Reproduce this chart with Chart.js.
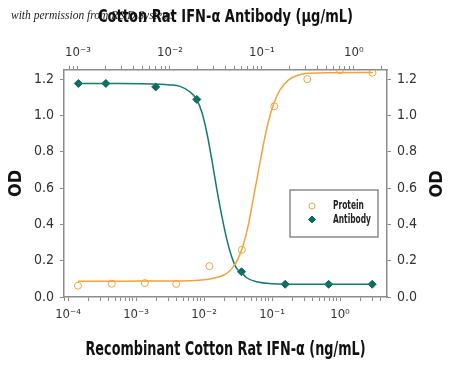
<!DOCTYPE html>
<html lang="en">
<head>
  <meta charset="UTF-8">
  <title>Cotton Rat IFN-alpha</title>
  <script src="https://cdn.jsdelivr.net/npm/chart.js"></script>
  <style>
    body { margin: 0; background: #ffffff; }
    #chart { display: block; }
  </style>
</head>
<body>
  <canvas id="chart" width="450" height="367"></canvas>

  <script>
    // protein, bottom axis (ng/mL)
    const proteinConc = [0.00014, 0.00044, 0.00135, 0.0039, 0.012, 0.036, 0.108, 0.33, 1.0, 3.0];
    const proteinOD = [0.062, 0.073, 0.077, 0.072, 0.17, 0.26, 1.05, 1.20, 1.25, 1.235];
    // antibody, top axis (ug/mL)
    const antibodyConc = [0.00101, 0.00201, 0.0070, 0.0196, 0.060, 0.179, 0.531, 1.58];
    const antibodyOD = [1.176, 1.176, 1.157, 1.088, 0.139, 0.07, 0.07, 0.07];

    // fitted curves
    const proteinFitConc = [0.00014, 0.00058, 0.00225, 0.00444, 0.0137, 0.0216, 0.0270, 0.0319, 0.0378, 0.0448,
      0.0531, 0.0629, 0.0745, 0.0883, 0.1045, 0.131, 0.174, 0.244, 0.362, 0.713, 3.05];
    const proteinFitOD = [0.087, 0.087, 0.088, 0.088, 0.103, 0.13, 0.167, 0.213, 0.286, 0.396,
      0.543, 0.69, 0.837, 0.965, 1.057, 1.14, 1.194, 1.222, 1.232, 1.235, 1.236];
    const antibodyFitConc = [0.00100, 0.00286, 0.00778, 0.0100, 0.01285, 0.01648, 0.0195, 0.02213, 0.02506, 0.02838,
      0.03221, 0.03648, 0.0413, 0.0469, 0.0531, 0.0601, 0.0681, 0.0875, 0.1327, 0.259, 1.57];
    const antibodyFitOD = [1.176, 1.176, 1.172, 1.168, 1.16, 1.13, 1.088, 1.02, 0.91, 0.763,
      0.598, 0.451, 0.323, 0.222, 0.158, 0.135, 0.106, 0.084, 0.073, 0.07, 0.07];

    const yTicks = [0, 0.2, 0.4, 0.6, 0.8, 1.0, 1.2];

    const topTitle = 'Cotton Rat IFN-\u03B1 Antibody (\u03BCg/mL)';
    const bottomTitle = 'Recombinant Cotton Rat IFN-\u03B1 (ng/mL)';

    const orange = '#f2a33a';
    const teal = '#137a70';
    const axisGray = '#8c8c8c';
    const narrow = '"Liberation Sans Narrow", "DejaVu Sans Condensed", sans-serif';

    const sup = { '-': '\u207B', '0': '\u2070', '1': '\u00B9', '2': '\u00B2', '3': '\u00B3', '4': '\u2074' };
    function powLabel(v) {
      const e = Math.log10(v);
      if (Math.abs(e - Math.round(e)) > 1e-6) return '';
      return '10' + String(Math.round(e)).split('').map(c => sup[c]).join('');
    }
    function logTicks(scale) {
      const list = [];
      for (let n = -6; n <= 2; n++) {
        for (let k = 1; k <= 9; k++) {
          const v = k * Math.pow(10, n);
          if (v >= scale.min * 0.9999 && v <= scale.max * 1.0001) list.push({ value: v });
        }
      }
      scale.ticks = list;
    }
    function pts(xs, ys) { return xs.map((x, i) => ({ x: x, y: ys[i] })); }

    const tickFont = { family: narrow, size: 13 };
    function logAxis(position, min, max, sizeFix) {
      return {
        type: 'logarithmic', position: position, min: min, max: max,
        afterBuildTicks: logTicks,
        afterFit: s => { s.height = sizeFix; },
        grid: { drawOnChartArea: false, drawTicks: true, tickLength: 4, color: axisGray },
        border: { display: true, color: axisGray, width: 1.5 },
        ticks: { callback: v => powLabel(v), autoSkip: false, maxRotation: 0, padding: 6, color: '#333', font: tickFont }
      };
    }
    function odAxis(position, width, showTitle) {
      return {
        type: 'linear', position: position, min: 0, max: 1.25,
        afterBuildTicks: s => { s.ticks = yTicks.map(v => ({ value: v })); },
        afterFit: s => { s.width = width; },
        grid: { drawOnChartArea: false, drawTicks: true, tickLength: 4, color: axisGray },
        border: { display: true, color: axisGray, width: 1.5 },
        ticks: { callback: v => v.toFixed(1), padding: 6, color: '#333', font: { family: narrow, size: 14 } },
        title: { display: showTitle, text: 'OD', color: '#111', font: { family: narrow, size: 18, weight: 'bold' },
                 padding: { top: 6, bottom: 4 } }
      };
    }

    // condensed bold text, squeezed to the width seen in the picture
    function squeezed(ctx, text, x, cy, font, width, align, color) {
      ctx.save();
      ctx.font = font;
      const k = Math.min(1, width / ctx.measureText(text).width);
      ctx.translate(x, cy);
      ctx.scale(k, 1);
      ctx.fillStyle = color;
      ctx.textAlign = align;
      ctx.textBaseline = 'middle';
      ctx.fillText(text, 0, 0);
      ctx.restore();
    }

    const extras = {
      id: 'extras',
      beforeDraw(chart) {
        const ctx = chart.ctx;
        ctx.save();
        ctx.fillStyle = '#222';
        ctx.font = 'italic 11.5px "Liberation Serif", "DejaVu Serif", serif';
        ctx.textBaseline = 'middle';
        ctx.textAlign = 'left';
        ctx.fillText('with permission from R&D Systems', 11, 16);
        ctx.restore();
      },
      afterDraw(chart) {
        const ctx = chart.ctx;
        const a = chart.chartArea;
        const mid = (a.left + a.right) / 2;
        squeezed(ctx, topTitle, mid, 17, 'bold 18px ' + narrow, 255, 'center', '#111');
        squeezed(ctx, bottomTitle, mid, 350, 'bold 19px ' + narrow, 280, 'center', '#111');

        ctx.save();
        // right axis title, same turn as the left one
        ctx.translate(437, 184);
        ctx.rotate(-Math.PI / 2);
        ctx.fillStyle = '#111';
        ctx.font = 'bold 18px ' + narrow;
        ctx.textAlign = 'center';
        ctx.textBaseline = 'middle';
        ctx.fillText('OD', 0, 0);
        ctx.restore();

        // legend box
        const bx = 290, by = 190, bw = 88, bh = 47;
        ctx.save();
        ctx.fillStyle = '#fff';
        ctx.fillRect(bx, by, bw, bh);
        ctx.strokeStyle = '#7a7a7a';
        ctx.lineWidth = 1.3;
        ctx.strokeRect(bx, by, bw, bh);
        const legendFont = '600 12px ' + narrow;
        ctx.font = legendFont;
        const k = Math.min(1, 38 / ctx.measureText('Antibody').width);
        const items = [chart.data.datasets[2], chart.data.datasets[3]];
        items.forEach((ds, i) => {
          const y = by + 16 + i * 13.5;
          ctx.fillStyle = ds.backgroundColor;
          ctx.strokeStyle = ds.borderColor;
          ctx.lineWidth = ds.borderWidth;
          Chart.helpers.drawPoint(ctx, { pointStyle: ds.pointStyle, radius: ds.pointRadius - 0.5, borderWidth: ds.borderWidth, rotation: 0 }, bx + 22, y);
          ctx.save();
          ctx.font = legendFont;
          ctx.fillStyle = '#222';
          ctx.textAlign = 'left';
          ctx.textBaseline = 'middle';
          ctx.translate(bx + 43, y);
          ctx.scale(k, 1);
          ctx.fillText(ds.label, 0, 0);
          ctx.restore();
        });
        ctx.restore();
      }
    };

    new Chart(document.getElementById('chart'), {
      data: {
        datasets: [
          { type: 'line', label: 'Protein fit', data: pts(proteinFitConc, proteinFitOD), xAxisID: 'x', yAxisID: 'y',
            borderColor: orange, borderWidth: 1.5, pointRadius: 0, cubicInterpolationMode: 'monotone', fill: false },
          { type: 'line', label: 'Antibody fit', data: pts(antibodyFitConc, antibodyFitOD), xAxisID: 'x2', yAxisID: 'y',
            borderColor: teal, borderWidth: 1.5, pointRadius: 0, cubicInterpolationMode: 'monotone', fill: false },
          { type: 'scatter', label: 'Protein', data: pts(proteinConc, proteinOD), xAxisID: 'x', yAxisID: 'y',
            pointStyle: 'circle', pointRadius: 3.5, borderWidth: 1, backgroundColor: 'rgba(255,255,255,0)', borderColor: orange },
          { type: 'scatter', label: 'Antibody', data: pts(antibodyConc, antibodyOD), xAxisID: 'x2', yAxisID: 'y',
            pointStyle: 'rectRot', pointRadius: 4, borderWidth: 1, backgroundColor: '#0b6a5c', borderColor: '#0b6a5c' }
        ]
      },
      options: {
        responsive: false,
        animation: false,
        layout: { padding: 0 },
        plugins: { legend: { display: false }, tooltip: { enabled: false } },
        scales: {
          x: logAxis('bottom', 8.73e-5, 4.91, 70),
          x2: logAxis('top', 7.05e-4, 2.29, 70),
          y: odAxis('left', 64, true),
          y2: odAxis('right', 63, false)
        }
      },
      plugins: [extras]
    });
  </script>
</body>
</html>
